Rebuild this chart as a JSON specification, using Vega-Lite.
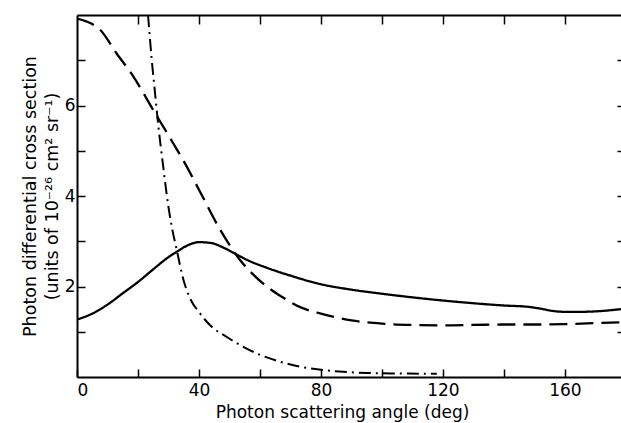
{
  "$schema": "https://vega.github.io/schema/vega-lite/v6.json",
  "width": 544,
  "height": 362,
  "autosize": {"type": "none"},
  "padding": {"left": 77, "top": 15, "right": 0, "bottom": 46},
  "config": {
    "view": {"stroke": null},
    "font": "DejaVu Sans",
    "axis": {
      "domainColor": "black",
      "domainWidth": 2,
      "tickColor": "black",
      "tickWidth": 1.5,
      "labelColor": "black",
      "labelFontSize": 17,
      "labelFont": "DejaVu Sans",
      "titleColor": "black",
      "titleFontSize": 17,
      "titleFontWeight": "normal",
      "titleFont": "DejaVu Sans",
      "grid": false
    }
  },
  "data": {
    "values": [
      {"series": "solid", "x": 0, "y": 1.27},
      {"series": "solid", "x": 5, "y": 1.4},
      {"series": "solid", "x": 10, "y": 1.6},
      {"series": "solid", "x": 15, "y": 1.85},
      {"series": "solid", "x": 20, "y": 2.1},
      {"series": "solid", "x": 25, "y": 2.38},
      {"series": "solid", "x": 30, "y": 2.65},
      {"series": "solid", "x": 33, "y": 2.78},
      {"series": "solid", "x": 36, "y": 2.9},
      {"series": "solid", "x": 40, "y": 2.98},
      {"series": "solid", "x": 44, "y": 2.96},
      {"series": "solid", "x": 48, "y": 2.86},
      {"series": "solid", "x": 52, "y": 2.72},
      {"series": "solid", "x": 56, "y": 2.58},
      {"series": "solid", "x": 62, "y": 2.42},
      {"series": "solid", "x": 70, "y": 2.24},
      {"series": "solid", "x": 80, "y": 2.05},
      {"series": "solid", "x": 90, "y": 1.93},
      {"series": "solid", "x": 100, "y": 1.84},
      {"series": "solid", "x": 110, "y": 1.76},
      {"series": "solid", "x": 120, "y": 1.69},
      {"series": "solid", "x": 130, "y": 1.63},
      {"series": "solid", "x": 140, "y": 1.58},
      {"series": "solid", "x": 148, "y": 1.55},
      {"series": "solid", "x": 152, "y": 1.51},
      {"series": "solid", "x": 156, "y": 1.46},
      {"series": "solid", "x": 160, "y": 1.44},
      {"series": "solid", "x": 165, "y": 1.44},
      {"series": "solid", "x": 170, "y": 1.45},
      {"series": "solid", "x": 178.4, "y": 1.5},
      {"series": "dashed", "x": 0, "y": 7.92},
      {"series": "dashed", "x": 3, "y": 7.86},
      {"series": "dashed", "x": 7.5, "y": 7.68},
      {"series": "dashed", "x": 13, "y": 7.15},
      {"series": "dashed", "x": 18.5, "y": 6.64},
      {"series": "dashed", "x": 25, "y": 5.9},
      {"series": "dashed", "x": 31.6, "y": 5.16},
      {"series": "dashed", "x": 36, "y": 4.65},
      {"series": "dashed", "x": 40.3, "y": 4.1},
      {"series": "dashed", "x": 47, "y": 3.25},
      {"series": "dashed", "x": 53.4, "y": 2.59},
      {"series": "dashed", "x": 58, "y": 2.25},
      {"series": "dashed", "x": 62.2, "y": 2.0},
      {"series": "dashed", "x": 67, "y": 1.78},
      {"series": "dashed", "x": 73, "y": 1.55},
      {"series": "dashed", "x": 80, "y": 1.4},
      {"series": "dashed", "x": 90, "y": 1.25},
      {"series": "dashed", "x": 100, "y": 1.18},
      {"series": "dashed", "x": 110, "y": 1.15},
      {"series": "dashed", "x": 120, "y": 1.14},
      {"series": "dashed", "x": 130, "y": 1.15},
      {"series": "dashed", "x": 140, "y": 1.16},
      {"series": "dashed", "x": 150, "y": 1.16},
      {"series": "dashed", "x": 160, "y": 1.17},
      {"series": "dashed", "x": 170, "y": 1.19},
      {"series": "dashed", "x": 178.4, "y": 1.21},
      {"series": "dashdot", "x": 23.3, "y": 8.0},
      {"series": "dashdot", "x": 24.5, "y": 7.02},
      {"series": "dashdot", "x": 25.6, "y": 6.27},
      {"series": "dashdot", "x": 26.7, "y": 5.53},
      {"series": "dashdot", "x": 28, "y": 4.8},
      {"series": "dashdot", "x": 29.9, "y": 3.8},
      {"series": "dashdot", "x": 31, "y": 3.35},
      {"series": "dashdot", "x": 32.7, "y": 2.81},
      {"series": "dashdot", "x": 34.9, "y": 2.15},
      {"series": "dashdot", "x": 37, "y": 1.75},
      {"series": "dashdot", "x": 40.3, "y": 1.41},
      {"series": "dashdot", "x": 44, "y": 1.12},
      {"series": "dashdot", "x": 49, "y": 0.89},
      {"series": "dashdot", "x": 55, "y": 0.65},
      {"series": "dashdot", "x": 60, "y": 0.49},
      {"series": "dashdot", "x": 66, "y": 0.35},
      {"series": "dashdot", "x": 73, "y": 0.23},
      {"series": "dashdot", "x": 80, "y": 0.16},
      {"series": "dashdot", "x": 86, "y": 0.12},
      {"series": "dashdot", "x": 95, "y": 0.09},
      {"series": "dashdot", "x": 103, "y": 0.08},
      {"series": "dashdot", "x": 118, "y": 0.07}
    ]
  },
  "resolve": {"axis": {"x": "independent", "y": "independent"}},
  "layer": [
    {
      "transform": [{"filter": "datum.series != 'dashdot'"}],
      "mark": {"type": "line", "color": "black", "strokeWidth": 2.3, "clip": true, "interpolate": "monotone"},
      "encoding": {
        "x": {
          "field": "x", "type": "quantitative",
          "scale": {"domain": [0, 178.4], "nice": false, "zero": false},
          "axis": {
            "orient": "bottom",
            "values": [0, 20, 40, 60, 80, 100, 120, 140, 160],
            "labelExpr": "datum.value % 40 == 0 ? datum.label : ''",
            "tickSize": -8,
            "labelPadding": 13,
            "title": "Photon scattering angle (deg)",
            "titleX": 265,
            "titleY": 40,
            "titleBaseline": "alphabetic"
          }
        },
        "y": {
          "field": "y", "type": "quantitative",
          "scale": {"domain": [0, 8], "nice": false},
          "axis": {
            "orient": "left",
            "values": [1, 2, 3, 4, 5, 6, 7],
            "labelExpr": "datum.value % 2 == 0 ? datum.label : ''",
            "tickSize": -8,
            "labelPadding": 10,
            "title": ["Photon differential cross section", "(units of 10⁻²⁶ cm² sr⁻¹)"],
            "titleFontSize": 17.5,
            "titlePadding": 3,
            "titleLineHeight": 22
          }
        },
        "strokeDash": {
          "field": "series", "type": "nominal",
          "scale": {"domain": ["solid", "dashed", "dashdot"], "range": [[1, 0], [18, 8], [12, 5, 2, 5]]},
          "legend": null
        }
      }
    },
    {
      "transform": [{"filter": "datum.series == 'dashdot'"}],
      "mark": {"type": "line", "color": "black", "strokeWidth": 2, "clip": true, "interpolate": "monotone"},
      "encoding": {
        "x": {
          "field": "x", "type": "quantitative",
          "axis": {
            "orient": "top",
            "values": [20, 40, 60, 80, 100, 120, 140, 160],
            "labels": false,
            "tickSize": -9,
            "title": null
          }
        },
        "y": {
          "field": "y", "type": "quantitative",
          "axis": {
            "orient": "right",
            "values": [1, 2, 3, 4, 5, 6, 7],
            "labels": false,
            "domain": false,
            "tickSize": -4,
            "title": null
          }
        },
        "strokeDash": {
          "field": "series", "type": "nominal",
          "legend": null
        }
      }
    }
  ]
}
